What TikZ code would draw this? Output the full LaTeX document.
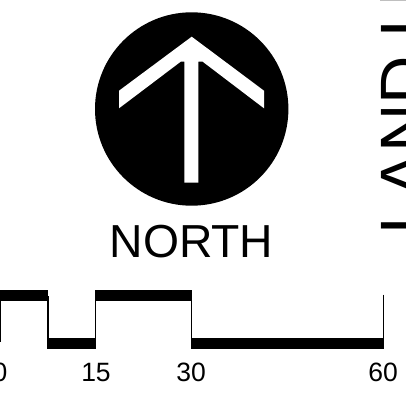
\documentclass[tikz,border=0pt]{standalone}
\usepackage{fontspec}
\setmainfont{Liberation Sans}
\tikzset{
  lbl/.style={inner sep=0pt,font=\fontsize{26.5}{26.5}\selectfont,anchor=base},
  bar/.style={fill=black,draw=none},
  tick/.style={draw=black,line width=1.4pt}
}
\begin{document}
\begin{tikzpicture}[x=1pt,y=-1pt]
\useasboundingbox (0,0) rectangle (406,404);
\clip (0,0) rectangle (406,404);
\fill[black] (191.7,109) circle[radius=96.7];
\fill[white] (191.7,36.7) -- (264,90.7) -- (264,108.3) -- (202.7,61.7) -- (198.3,61.7)
  -- (198.3,182.7) -- (184.3,182.7) -- (184.3,61.7) -- (180.7,61.7) -- (119,108.3) -- (119,90.7) -- cycle;
\node[inner sep=0pt,anchor=base,font=\fontsize{46.3}{46.3}\selectfont] (north) at (191.5,257.5) {NORTH};
\node[inner sep=0pt,anchor=base west,rotate=90,font=\fontsize{67}{67}\selectfont] (land) at (427,235) {LAND L};
\fill[black!25] (380,0) rectangle (406,1);
\draw[tick] (0,296) -- (0,342);
\draw[tick] (47.8,296) -- (47.8,342);
\draw[tick] (95.5,296) -- (95.5,342);
\draw[tick] (191.5,296) -- (191.5,342);
\draw[tick] (383.7,294.5) -- (383.7,345);
\fill[bar] (0,290) rectangle (48.3,301);
\fill[bar] (46.7,338) rectangle (96,349);
\fill[bar] (95,290) rectangle (192.3,301);
\fill[bar] (190.7,338) rectangle (384.3,349);
\node[lbl] (n0) at (0,381.7) {0};
\node[lbl] (n15) at (96,381.7) {15};
\node[lbl] (n30) at (191,381.7) {30};
\node[lbl] (n60) at (383,381.7) {60};
\end{tikzpicture}
\end{document}
